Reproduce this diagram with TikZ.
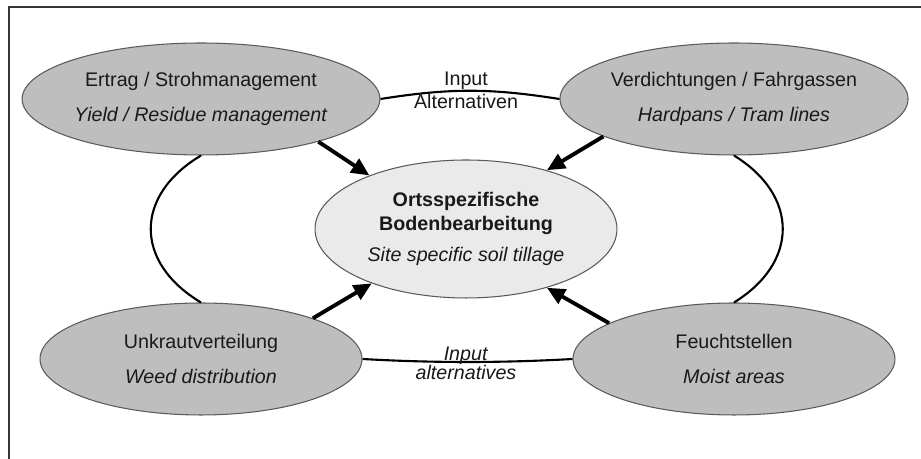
\documentclass[tikz,border=0pt]{standalone}
\usepackage{fontspec}
\setmainfont{Liberation Sans}
\usetikzlibrary{shapes.geometric,arrows.meta}
\definecolor{outergray}{RGB}{190,190,190}
\definecolor{innergray}{RGB}{234,234,234}
\definecolor{rimgray}{RGB}{90,90,90}
\definecolor{textgray}{RGB}{25,25,25}

\begin{document}
\begin{tikzpicture}[x=0.02cm,y=0.02cm,
  topic/.style={ellipse,draw=rimgray,fill=outergray,line width=0.6pt,minimum width=6.44cm,minimum height=2.24cm,inner sep=0pt,align=center,text=textgray,font=\fontsize{11.2}{13.6}\selectfont},
  core/.style={topic,fill=innergray,minimum width=6.04cm,minimum height=2.76cm},
  ring/.style={black,line width=1.2pt},
  feed/.style={black,line width=2.2pt,-{Triangle[length=0.36cm,width=0.32cm]}},
  lbl/.style={inner sep=0pt,text=textgray,font=\fontsize{11.2}{13.6}\selectfont}]
\useasboundingbox (0,0) rectangle (921,459);
\draw[rimgray!60!black, line width=1pt] (9,0) -- (9,452) -- (921,452);

% the four factors and the centre
\node[topic] (tl) at (201,360) {Ertrag / Strohmanagement\\[6.3pt]\textit{Yield / Residue management}};
\node[topic] (tr) at (734,360) {Verdichtungen / Fahrgassen\\[6.3pt]\textit{Hardpans / Tram lines}};
\node[topic] (bl) at (201,100) {Unkrautverteilung\\[6.3pt]\textit{Weed distribution}};
\node[topic] (br) at (734,100) {Feuchtstellen\\[6.3pt]\textit{Moist areas}};
\node[core] (site) at (466,230) {{\bfseries Ortsspezifische}\\{\bfseries Bodenbearbeitung}\\[4pt]\textit{Site specific soil tillage}};

% ring round the factors
\draw[ring] (tl.east) .. controls +(70,11) and +(-70,11) .. (tr.west);
\draw[ring] (bl.east) .. controls +(70,-4) and +(-70,-4) .. (br.west);
\draw[ring] (tl.south) .. controls +(-67,-40) and +(-67,40) .. (bl.north);
\draw[ring] (tr.south) .. controls +(65,-40) and +(65,40) .. (br.north);

\node[lbl,anchor=base] (inputde) at (466,373) {Input};
\node[lbl,anchor=base] (altde) at (466,350) {Alternativen};
\node[lbl,anchor=base] (inputen) at (466,98) {\textit{Input}};
\node[lbl,anchor=base] (alten) at (466,79) {\textit{alternatives}};

% arrows into the centre
\draw[feed] (tl.-20) -- (site.151);
\draw[feed] (tr.196) -- (site.36);
\draw[feed] (bl.20) -- (site.210);
\draw[feed] (br.164) -- (site.-36);

\end{tikzpicture}
\end{document}
